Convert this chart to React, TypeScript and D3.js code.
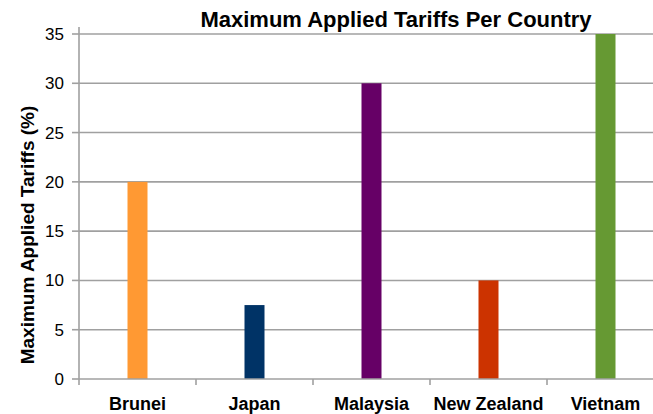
import React from "react";
import * as d3 from "d3";

const categories = ["Brunei", "Japan", "Malaysia", "New Zealand", "Vietnam"];
const values = [20, 7.5, 30, 10, 35];
const colors = ["#FF9933", "#003366", "#660066", "#CC3300", "#669933"];
const yTicks = [0, 5, 10, 15, 20, 25, 30, 35];
const title = "Maximum Applied Tariffs Per Country";
const yTitle = "Maximum Applied Tariffs (%)";

export default function App() {
  const W = 653, H = 414;
  const left = 79, right = 664, top = 34, bottom = 379;
  const x = d3.scaleBand<string>().domain(categories).range([left, right]);
  const y = d3.scaleLinear().domain([0, 35]).range([bottom, top]);
  const barW = 20;
  const font = "'Liberation Sans', Arial, sans-serif";
  return (
    <svg width={W} height={H} style={{ position: "absolute", left: 0, top: 0 }}>
      <rect width={W} height={H} fill="#fff" />
      {yTicks.map((t) => (
        <g key={t}>
          {t > 0 && (
            <line x1={left} x2={right} y1={y(t)} y2={y(t)} stroke="#a0a0a0" strokeWidth={1.6} />
          )}
          <line x1={left - 7} x2={left} y1={y(t)} y2={y(t)} stroke="#a0a0a0" strokeWidth={1.6} />
          <text x={left - 15} y={y(t)} dy="0.35em" textAnchor="end" fontFamily={font} fontSize={17} fill="#000">
            {t}
          </text>
        </g>
      ))}
      {categories.map((c, i) => (
        <rect key={c} x={x(c)! + x.bandwidth() / 2 - barW / 2} y={y(values[i])} width={barW}
          height={y(0) - y(values[i])} fill={colors[i]} />
      ))}
      <line x1={left} x2={left} y1={top - 7} y2={bottom} stroke="#a0a0a0" strokeWidth={1.6} />
      <line x1={left} x2={right} y1={bottom} y2={bottom} stroke="#a0a0a0" strokeWidth={1.6} />
      {categories.map((c) => (
        <line key={"t" + c} x1={x(c)!} x2={x(c)!} y1={bottom} y2={bottom + 6} stroke="#a0a0a0" strokeWidth={1.6} />
      ))}
      {categories.map((c) => (
        <text key={"l" + c} x={x(c)! + x.bandwidth() / 2} y={410} textAnchor="middle" fontFamily={font}
          fontSize={18} fontWeight="bold" fill="#000">
          {c}
        </text>
      ))}
      <text x={396} y={26.5} textAnchor="middle" fontFamily={font} fontSize={22} fontWeight="bold" fill="#000">
        {title}
      </text>
      <text transform={`translate(34, ${235}) rotate(-90)`} textAnchor="middle"
        fontFamily={font} fontSize={19} fontWeight="bold" fill="#000">
        {yTitle}
      </text>
    </svg>
  );
}
